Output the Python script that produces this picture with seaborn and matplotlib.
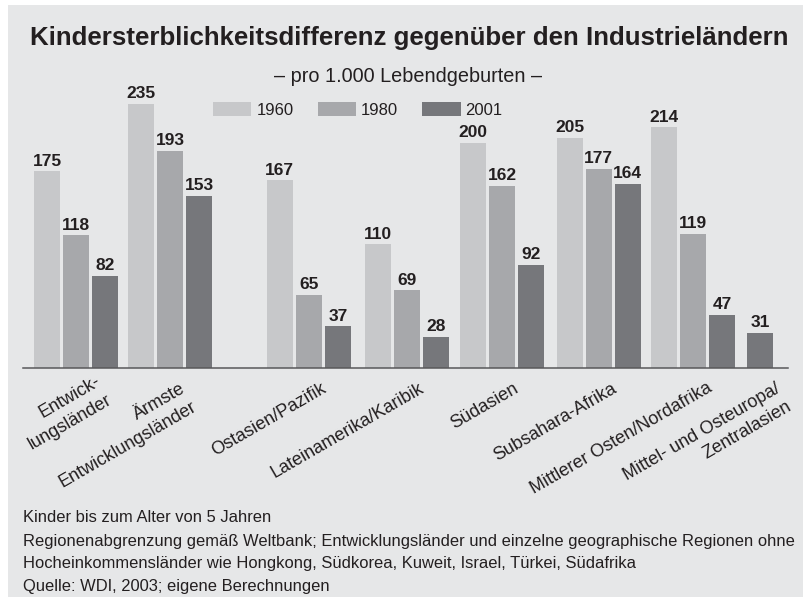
import numpy as np
import pandas as pd
import matplotlib.pyplot as plt
import matplotlib.transforms as mtransforms
from matplotlib.patches import Rectangle
import seaborn as sns

# data
regions = [
    "Entwick-\nlungsländer",
    "Ärmste\nEntwicklungsländer",
    "Ostasien/Pazifik",
    "Lateinamerika/Karibik",
    "Südasien",
    "Subsahara-Afrika",
    "Mittlerer Osten/Nordafrika",
    "Mittel- und Osteuropa/\nZentralasien",
]
years = ["1960", "1980", "2001"]
v1960 = [175, 235, 167, 110, 200, 205, 214, np.nan]
v1980 = [118, 193, 65, 69, 162, 177, 119, np.nan]
v2001 = [82, 153, 37, 28, 92, 164, 47, 31]

notes = [
    "Kinder bis zum Alter von 5 Jahren",
    "Regionenabgrenzung gemäß Weltbank; Entwicklungsländer und einzelne geographische Regionen ohne",
    "Hocheinkommensländer wie Hongkong, Südkorea, Kuweit, Israel, Türkei, Südafrika",
    "Quelle: WDI, 2003; eigene Berechnungen",
]

# layout (slot units, one slot = one bar pitch)
group_x = [0, 3.24, 8.03, 11.4, 14.69, 18.03, 21.28, 22.59]
year_offset = {"1960": -1, "1980": 0, "2001": 1}
# label offsets in pixels (right, up)
label_shift = [(19, 7), (10, 0), (12, 0), (12, 0), (11, 0), (12, 0), (13, 0), (44, 0)]

bg = "#e6e7e8"
ink = "#231f20"
colors = {"1960": "#c7c8ca", "1980": "#a7a8ab", "2001": "#76777b"}

rows = []
for i, reg in enumerate(regions):
    for y, vals in zip(years, [v1960, v1980, v2001]):
        if not np.isnan(vals[i]):
            rows.append({"pos": group_x[i] + year_offset[y], "value": vals[i], "year": y})
df = pd.DataFrame(rows)

sns.set_theme(style="white")
plt.rcParams["font.family"] = ["Liberation Sans", "DejaVu Sans"]
plt.rcParams["text.color"] = ink

W, H = 804, 597
fig = plt.figure(figsize=(W / 100, H / 100), dpi=100, facecolor="white")
fig.patches.append(Rectangle((8 / W, 0), 1, 1 - 5 / H, transform=fig.transFigure,
                             facecolor=bg, edgecolor="none", zorder=-10))

ax = fig.add_axes([23 / W, 1 - 368 / H, 765 / W, 281 / H])
ax.set_facecolor("none")
ax.set_zorder(1)

sns.barplot(data=df, x="pos", y="value", hue="year", hue_order=years, palette=colors,
            native_scale=True, dodge=False, width=0.9, saturation=1, errorbar=None,
            linewidth=0, edgecolor="none", ax=ax)

for cont in ax.containers:
    ax.bar_label(cont, fmt="%.0f", padding=2, fontsize=12.5, fontweight="bold", color=ink)

ax.set_xlim(-53 / 29, 712 / 29)
ax.set_ylim(0, 250)
ax.set_xlabel("")
ax.set_ylabel("")
ax.set_yticks([])
for s in ["top", "left", "right"]:
    ax.spines[s].set_visible(False)
ax.spines["bottom"].set_color("#58585a")
ax.spines["bottom"].set_linewidth(1.1)

ax.set_xticks(group_x)
ax.set_xticklabels(regions, rotation=30, ha="right", va="top", rotation_mode="anchor",
                   fontsize=13, color=ink, multialignment="right", linespacing=1.35)
ax.tick_params(axis="x", length=0, pad=8.5)
for lab, (dx, dy) in zip(ax.get_xticklabels(), label_shift):
    lab.set_transform(lab.get_transform() +
                      mtransforms.ScaledTranslation(dx / 100, dy / 100, fig.dpi_scale_trans))

sns.move_legend(ax, "center left", bbox_to_anchor=(213 / W, 1 - 110 / H),
                bbox_transform=fig.transFigure, ncol=3, frameon=False, title=None,
                fontsize=12, handlelength=2.3, handleheight=0.85, handletextpad=0.3,
                columnspacing=1.45, borderpad=0, borderaxespad=0)

fig.text(409 / W, 1 - 45 / H, "Kindersterblichkeitsdifferenz gegenüber den Industrieländern",
         ha="center", va="baseline", fontsize=18.6, fontweight="bold", color=ink)
fig.text(408 / W, 1 - 82 / H, "– pro 1.000 Lebendgeburten –",
         ha="center", va="baseline", fontsize=14.3, color=ink)

for txt, yb in zip(notes, [522, 546, 568, 591]):
    fig.text(23 / W, 1 - yb / H, txt, ha="left", va="baseline", fontsize=11.9, color=ink)

fig.savefig("out.png", dpi=100, facecolor="white")
